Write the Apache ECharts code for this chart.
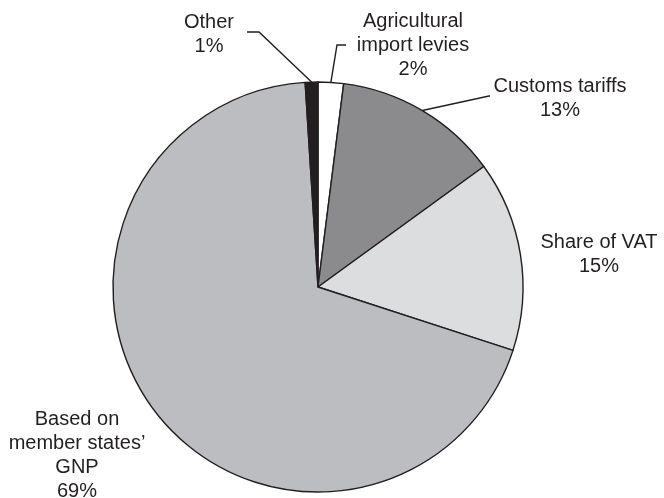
<!DOCTYPE html>
<html>
<head>
<meta charset="utf-8">
<script src="https://cdn.jsdelivr.net/npm/echarts@6/dist/echarts.min.js"></script>
<style>
  html, body { margin: 0; padding: 0; background: #ffffff; }
  #chart { width: 664px; height: 498px; }
</style>
</head>
<body>
<div id="chart"></div>
<script>
// Sources of revenue, in clockwise order from 12 o'clock
const sources = ['Agricultural\nimport levies', 'Customs tariffs', 'Share of VAT', 'Based on\nmember states\u2019\nGNP', 'Other'];
const shares = [2, 13, 15, 69, 1];

// Slice fills, same order as the sources
const sliceColors = ['#ffffff', '#8b8b8e', '#dcdddf', '#bcbdc0', '#231f20'];

// Centre of each label block, and the elbow/end of its leader line (null = no leader)
const labelAnchors = [[413, 45], [560, 98], [599, 254], [77, 455], [209, 34]];
const leaderPaths = [[[337, 45], [346, 45]], [[489, 96], [490, 96]], null, null, [[259, 32], [247, 32]]];

const ink = '#231f20';

const chart = echarts.init(document.getElementById('chart'), null, { renderer: 'canvas' });

chart.setOption({
  animation: false,
  backgroundColor: '#ffffff',
  series: [{
    type: 'pie',
    center: [318, 287],
    radius: [0, 205],
    startAngle: 90,
    clockwise: true,
    avoidLabelOverlap: false,
    itemStyle: { borderColor: ink, borderWidth: 1.4 },
    label: {
      show: true,
      position: 'outside',
      formatter: '{b}\n{c}%',
      fontFamily: '"Liberation Sans", Arial, sans-serif',
      fontSize: 20,
      lineHeight: 24,
      color: ink,
      align: 'center'
    },
    labelLine: {
      show: true,
      length: 20,
      length2: 10,
      lineStyle: { color: ink, width: 1.4 }
    },
    emphasis: { disabled: true },
    labelLayout: function (params) {
      const i = params.dataIndex;
      const out = {
        x: labelAnchors[i][0],
        y: labelAnchors[i][1],
        align: 'center',
        verticalAlign: 'middle',
        hideOverlap: false
      };
      if (leaderPaths[i] && params.labelLinePoints) {
        out.labelLinePoints = [params.labelLinePoints[0], leaderPaths[i][0], leaderPaths[i][1]];
      }
      return out;
    },
    data: sources.map(function (name, i) {
      const item = { name: name, value: shares[i], itemStyle: { color: sliceColors[i] } };
      if (!leaderPaths[i]) item.labelLine = { show: false };
      return item;
    })
  }]
});
</script>
</body>
</html>
